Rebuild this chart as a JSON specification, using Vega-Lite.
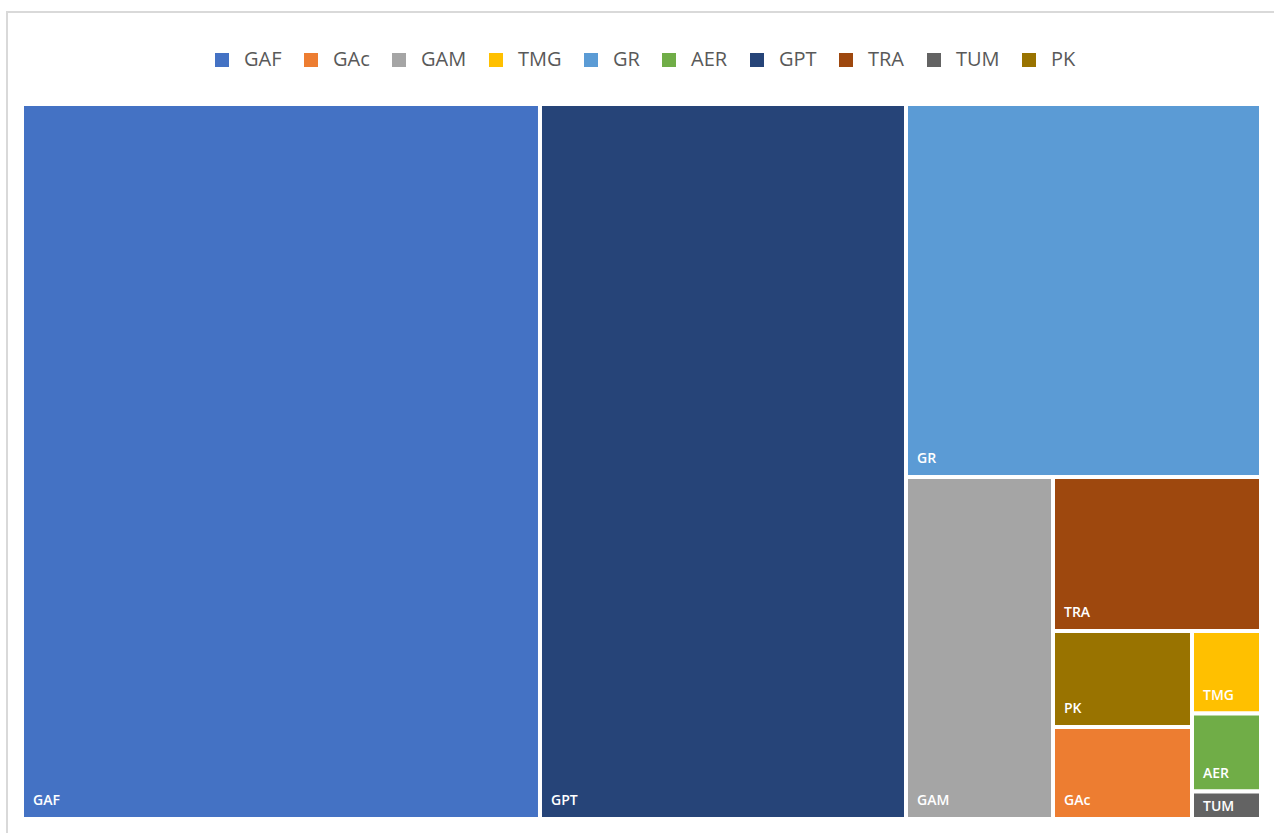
{
  "$schema": "https://vega.github.io/schema/vega-lite/v6.json",
  "autosize": "none",
  "width": 1239,
  "height": 715,
  "padding": {"left": 22, "top": 104, "right": 13, "bottom": 14},
  "background": "white",
  "config": {"view": {"stroke": null}},
  "datasets": {
    "tiles": [
      {"name": "GAF", "x0": 0, "x1": 41.807, "y0": 0, "y1": 100},
      {"name": "GPT", "x0": 41.807, "x1": 71.348, "y0": 0, "y1": 100},
      {"name": "GR", "x0": 71.348, "x1": 100, "y0": 0, "y1": 52.168},
      {"name": "GAM", "x0": 71.348, "x1": 83.212, "y0": 52.168, "y1": 100},
      {"name": "TRA", "x0": 83.212, "x1": 100, "y0": 52.168, "y1": 73.706},
      {"name": "PK", "x0": 83.212, "x1": 94.431, "y0": 73.706, "y1": 87.133},
      {"name": "GAc", "x0": 83.212, "x1": 94.431, "y0": 87.133, "y1": 100},
      {"name": "TMG", "x0": 94.431, "x1": 100, "y0": 73.706, "y1": 85.245},
      {"name": "AER", "x0": 94.431, "x1": 100, "y0": 85.245, "y1": 96.154},
      {"name": "TUM", "x0": 94.431, "x1": 100, "y0": 96.154, "y1": 100}
    ],
    "frame": [
      {"x0": -1.211, "x1": 102, "y0": -12.867, "y1": 103}
    ]
  },
  "layer": [
    {
      "data": {"name": "frame"},
      "mark": {"type": "rect", "fill": null, "stroke": "#d9d9d9", "strokeWidth": 2},
      "encoding": {
        "x": {"field": "x0", "type": "quantitative", "scale": {"domain": [0, 100], "nice": false, "zero": false}, "axis": null},
        "x2": {"field": "x1"},
        "y": {"field": "y0", "type": "quantitative", "scale": {"domain": [0, 100], "nice": false, "zero": false, "reverse": true}, "axis": null},
        "y2": {"field": "y1"}
      }
    },
    {
      "data": {"name": "tiles"},
      "mark": {"type": "rect", "stroke": "white", "strokeWidth": 4},
      "encoding": {
        "x": {"field": "x0", "type": "quantitative", "axis": null},
        "x2": {"field": "x1"},
        "y": {"field": "y0", "type": "quantitative", "axis": null},
        "y2": {"field": "y1"},
        "color": {
          "field": "name",
          "type": "nominal",
          "scale": {
            "domain": ["GAF", "GAc", "GAM", "TMG", "GR", "AER", "GPT", "TRA", "TUM", "PK"],
            "range": ["#4472C4", "#ED7D31", "#A5A5A5", "#FFC000", "#5B9BD5", "#70AD47", "#264478", "#9E480E", "#636363", "#997300"]
          },
          "legend": {
            "orient": "none",
            "legendX": 190,
            "legendY": -54,
            "direction": "horizontal",
            "title": null,
            "padding": 0,
            "symbolType": "square",
            "symbolSize": 196,
            "symbolStrokeWidth": 0,
            "symbolOpacity": 1,
            "labelFont": "Open Sans",
            "labelFontSize": 20,
            "labelColor": "#595959",
            "labelOffset": 12,
            "columnPadding": 19
          }
        }
      }
    },
    {
      "data": {"name": "tiles"},
      "transform": [{"filter": "datum.name !== 'TUM'"}],
      "mark": {"type": "text", "align": "left", "baseline": "alphabetic", "dx": 11, "dy": -14, "color": "white", "font": "Open Sans", "fontSize": 14, "fontWeight": 600},
      "encoding": {
        "x": {"field": "x0", "type": "quantitative"},
        "y": {"field": "y1", "type": "quantitative"},
        "text": {"field": "name"}
      }
    },
    {
      "data": {"name": "tiles"},
      "transform": [{"filter": "datum.name === 'TUM'"}],
      "mark": {"type": "text", "align": "left", "baseline": "alphabetic", "dx": 11, "dy": -8, "color": "white", "font": "Open Sans", "fontSize": 14, "fontWeight": 600},
      "encoding": {
        "x": {"field": "x0", "type": "quantitative"},
        "y": {"field": "y1", "type": "quantitative"},
        "text": {"field": "name"}
      }
    }
  ]
}
